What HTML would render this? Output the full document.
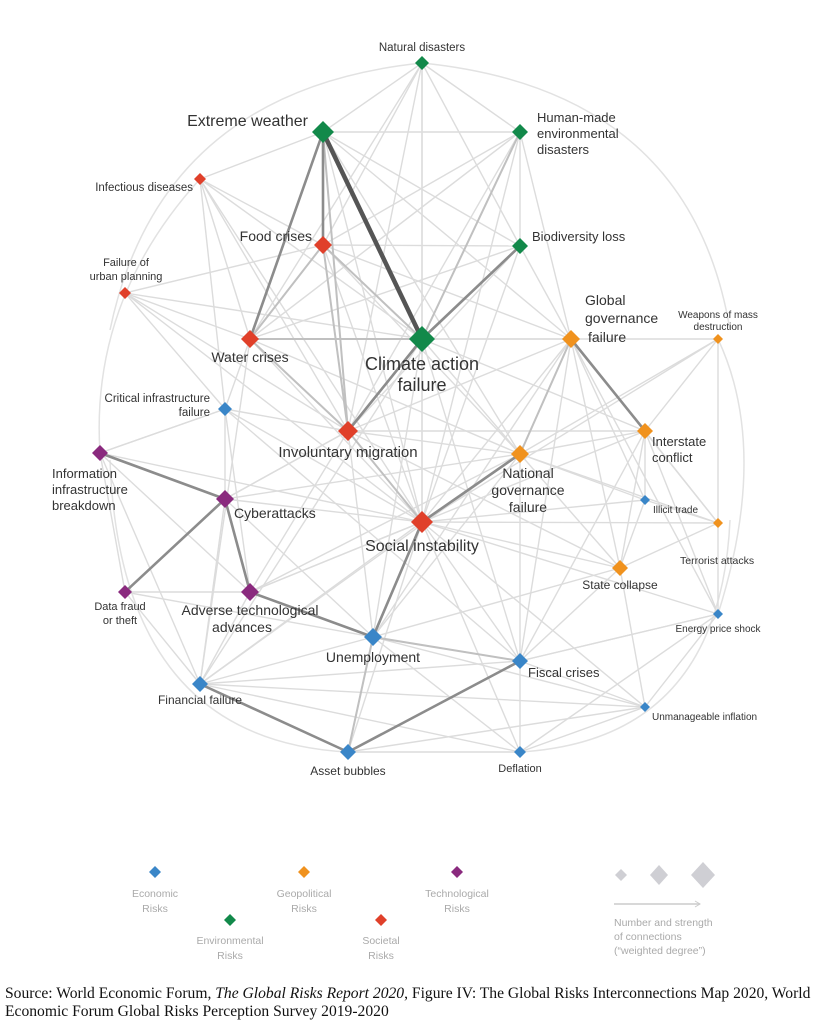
<!DOCTYPE html>
<html><head><meta charset="utf-8"><style>
html,body{margin:0;padding:0;background:#fff;width:826px;height:1024px;overflow:hidden}
svg{position:absolute;left:0;top:0}
text{font-family:"Liberation Sans",sans-serif;fill:#333}
.src{position:absolute;left:5px;top:985px;width:830px;white-space:nowrap;font-family:"Liberation Serif",serif;font-size:15.6px;line-height:18px;color:#111}
</style></head><body>
<svg id="s" width="826" height="1024" viewBox="0 0 826 1024">
<g fill="none" stroke="#e2e2e2" stroke-width="1.5">
<path d="M422 63 Q160 90 110 330"/><path d="M422 63 Q690 90 730 330"/>
<path d="M110 460 Q120 740 348 752"/><path d="M730 520 Q720 740 520 752"/>
<path d="M200 179 Q90 300 100 453"/><path d="M718 339 Q770 450 718 614"/>
</g>
<g id="edges"></g>
<g id="nodes"></g>
<g font-size="12">
<text x="422" y="51" text-anchor="middle" font-size="11.5">Natural disasters</text>
<text x="308" y="126" text-anchor="end" font-size="16">Extreme weather</text>
<text x="537" y="122" font-size="13">Human-made</text>
<text x="537" y="138" font-size="13">environmental</text>
<text x="537" y="154" font-size="13">disasters</text>
<text x="193" y="191" text-anchor="end" font-size="11.5">Infectious diseases</text>
<text x="312" y="241" text-anchor="end" font-size="14">Food crises</text>
<text x="532" y="241" font-size="13">Biodiversity loss</text>
<text x="126" y="266" text-anchor="middle" font-size="11">Failure of</text>
<text x="126" y="280" text-anchor="middle" font-size="11">urban planning</text>
<text x="250" y="362" text-anchor="middle" font-size="14">Water crises</text>
<text x="422" y="370" text-anchor="middle" font-size="18">Climate action</text>
<text x="422" y="391" text-anchor="middle" font-size="18">failure</text>
<text x="585" y="305" font-size="14">Global</text>
<text x="585" y="323" font-size="14">governance</text>
<text x="588" y="342" font-size="14">failure</text>
<text x="718" y="318" text-anchor="middle" font-size="10">Weapons of mass</text>
<text x="718" y="330" text-anchor="middle" font-size="10">destruction</text>
<text x="210" y="402" text-anchor="end" font-size="11.5">Critical infrastructure</text>
<text x="210" y="416" text-anchor="end" font-size="11.5">failure</text>
<text x="348" y="457" text-anchor="middle" font-size="15">Involuntary migration</text>
<text x="652" y="446" font-size="13">Interstate</text>
<text x="652" y="462" font-size="13">conflict</text>
<text x="528" y="478" text-anchor="middle" font-size="14">National</text>
<text x="528" y="495" text-anchor="middle" font-size="14">governance</text>
<text x="528" y="512" text-anchor="middle" font-size="14">failure</text>
<text x="52" y="478" font-size="13">Information</text>
<text x="52" y="494" font-size="13">infrastructure</text>
<text x="52" y="510" font-size="13">breakdown</text>
<text x="234" y="518" font-size="14">Cyberattacks</text>
<text x="653" y="513" font-size="10">Illicit trade</text>
<text x="422" y="551" text-anchor="middle" font-size="16">Social instability</text>
<text x="680" y="564" font-size="10.5">Terrorist attacks</text>
<text x="120" y="610" text-anchor="middle" font-size="11">Data fraud</text>
<text x="120" y="624" text-anchor="middle" font-size="11">or theft</text>
<text x="250" y="615" text-anchor="middle" font-size="14">Adverse technological</text>
<text x="242" y="632" text-anchor="middle" font-size="14">advances</text>
<text x="620" y="589" text-anchor="middle" font-size="12">State collapse</text>
<text x="718" y="632" text-anchor="middle" font-size="10">Energy price shock</text>
<text x="373" y="662" text-anchor="middle" font-size="14">Unemployment</text>
<text x="528" y="677" font-size="13">Fiscal crises</text>
<text x="200" y="704" text-anchor="middle" font-size="12">Financial failure</text>
<text x="652" y="720" font-size="10">Unmanageable inflation</text>
<text x="348" y="775" text-anchor="middle" font-size="12">Asset bubbles</text>
<text x="520" y="772" text-anchor="middle" font-size="11">Deflation</text>
</g>
<g font-size="10.5" text-anchor="middle">
<text x="155" y="897" style="fill:#aaa">Economic</text><text x="155" y="912" style="fill:#aaa">Risks</text>
<text x="230" y="944" style="fill:#aaa">Environmental</text><text x="230" y="959" style="fill:#aaa">Risks</text>
<text x="304" y="897" style="fill:#aaa">Geopolitical</text><text x="304" y="912" style="fill:#aaa">Risks</text>
<text x="381" y="944" style="fill:#aaa">Societal</text><text x="381" y="959" style="fill:#aaa">Risks</text>
<text x="457" y="897" style="fill:#aaa">Technological</text><text x="457" y="912" style="fill:#aaa">Risks</text>
</g>
<g font-size="10.5">
<text x="614" y="926" style="fill:#aaa">Number and strength</text>
<text x="614" y="940" style="fill:#aaa">of connections</text>
<text x="614" y="954" style="fill:#aaa">(“weighted degree”)</text>
</g>
<line x1="614" y1="904" x2="700" y2="904" stroke="#ccc" stroke-width="1.5"/>
<path d="M695 901 L700 904 L695 907" fill="none" stroke="#ccc"/>
<path d="M621 869 l6 6 l-6 6 l-6 -6z" fill="#cfcfd4"/>
<path d="M659 865 l9 10 l-9 10 l-9 -10z" fill="#cfcfd4"/>
<path d="M703 862 l12 13 l-12 13 l-12 -13z" fill="#cfcfd4"/>
</svg>
<div class="src">Source: World Economic Forum, <i>The Global Risks Report 2020</i>, Figure IV: The Global Risks Interconnections Map 2020, World<br>Economic Forum Global Risks Perception Survey 2019-2020</div>
<script>
var G='#12894a',R='#e0402a',O='#f0921e',B='#3a86c8',P='#8a2a7e';
var N={
nd:[422,63,7,G],ew:[323,132,11,G],hm:[520,132,8,G],id:[200,179,6,R],fc:[323,245,9,R],bl:[520,246,8,G],
up:[125,293,6,R],wc:[250,339,9,R],ca:[422,339,13,G],gg:[571,339,9,O],wm:[718,339,5,O],ci:[225,409,7,B],
im:[348,431,10,R],ic:[645,431,8,O],ng:[520,454,9,O],ii:[100,453,8,P],cy:[225,499,9,P],it:[645,500,5,B],
si:[422,522,11,R],ta:[718,523,5,O],df:[125,592,7,P],at:[250,592,9,P],sc:[620,568,8,O],ep:[718,614,5,B],
un:[373,637,9,B],fi:[520,661,8,B],ff:[200,684,8,B],ui:[645,707,5,B],ab:[348,752,8,B],de:[520,752,6,B],
eco:[155,872,6,B],env:[230,920,6,G],geo:[304,872,6,O],soc:[381,920,6,R],tec:[457,872,6,P]};
var light="nd-ew nd-hm nd-ca nd-fc nd-bl nd-wc nd-im nd-si ew-hm ew-bl ew-id ew-si ew-gg hm-bl hm-ca hm-fc hm-wc hm-im hm-si id-fc id-wc id-si id-im id-ca id-ci fc-bl fc-si fc-gg fc-ng bl-wc bl-gg bl-im bl-si up-wc up-im up-si up-ca up-ci up-fc wc-gg wc-im wc-si wc-ci wc-ng ca-gg ca-si ca-ng ca-ic ca-un gg-wm gg-ng gg-si gg-sc gg-it gg-ta gg-im gg-fi gg-un gg-ep wm-ic wm-ta wm-ng wm-si ci-ii ci-cy ci-at ci-si ci-im ci-fi im-ng im-ic im-un im-sc im-at im-cy ic-ng ic-si ic-sc ic-ta ic-it ic-ep ic-fi ng-sc ng-fi ng-un ng-it ng-ta ii-df ii-at ii-si ii-ff ii-ci cy-si cy-ff cy-un cy-ng cy-im it-si it-sc it-ta si-sc si-un si-fi si-ta si-at si-ff si-ab si-de si-ui si-ep ta-sc ta-ep sc-fi sc-ui sc-un at-un at-ff at-si at-ng df-ff df-at df-un un-fi un-ff un-ab un-de un-ui fi-ab fi-de fi-ui fi-ff fi-ep ff-ab ff-de ff-ui ab-de ab-ui de-ui ep-ui ep-fi ca-fi ca-ff ff-ng wc-ff hm-gg ew-ng ep-de";
var med="ew-fc ew-wc fc-wc fc-ca wc-ca ca-im fc-im wc-im gg-ic gg-ng ew-im ca-bl hm-ca si-im si-ng df-cy ii-cy at-un ff-ab cy-at si-un fi-un ab-un";
var dark="ew-fc ew-wc ca-bl ca-im gg-ic ii-cy df-cy cy-at at-un si-un si-ng ff-ab ab-fi";
var E=document.getElementById('edges'),ns='http://www.w3.org/2000/svg';
function ln(k,c,w){var p=k.split('-'),a=N[p[0]],b=N[p[1]];if(!a||!b)return;var l=document.createElementNS(ns,'line');
l.setAttribute('x1',a[0]);l.setAttribute('y1',a[1]);l.setAttribute('x2',b[0]);l.setAttribute('y2',b[1]);l.setAttribute('stroke',c);l.setAttribute('stroke-width',w);E.appendChild(l);}
light.split(' ').forEach(function(k){ln(k,'#dcdcdc',1.4)});
med.split(' ').forEach(function(k){ln(k,'#c0c0c0',2)});
dark.split(' ').forEach(function(k){ln(k,'#8c8c8c',2.6)});
ln('ew-ca','#555',4.5);
var ND=document.getElementById('nodes');
for(var k in N){var n=N[k],x=n[0],y=n[1],r=n[2];var p=document.createElementNS(ns,'path');
p.setAttribute('d','M'+x+' '+(y-r)+'L'+(x+r)+' '+y+'L'+x+' '+(y+r)+'L'+(x-r)+' '+y+'Z');p.setAttribute('fill',n[3]);ND.appendChild(p);}
</script>
</body></html>
